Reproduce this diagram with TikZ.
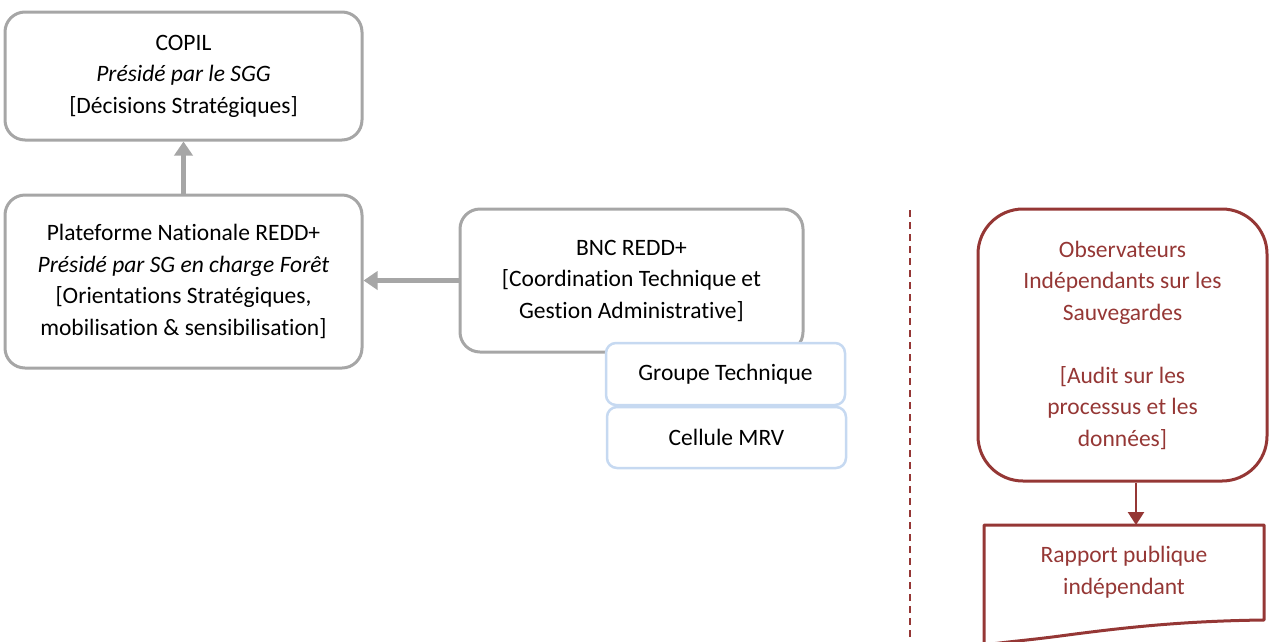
\documentclass[tikz,border=0pt]{standalone}
\usepackage{fontspec}
\setmainfont{Carlito}[Ligatures=NoCommon]
\usetikzlibrary{arrows.meta}
\definecolor{boxgray}{HTML}{A6A6A6}
\definecolor{boxblue}{HTML}{C6D9F1}
\definecolor{darkred}{HTML}{953735}
\begin{document}
\begin{tikzpicture}[x=1pt, y=-1pt,
    every node/.style={font=\fontsize{23.5}{31.5}\selectfont, align=center},
    graybox/.style={draw=boxgray, line width=3pt, rounded corners=20pt, inner sep=0pt},
    bluebox/.style={draw=boxblue, line width=2.5pt, rounded corners=10pt, fill=white, inner sep=0pt},
    redbox/.style={draw=darkred, line width=3pt, rounded corners=45pt, text=darkred, inner sep=0pt}]
    \useasboundingbox (0,0) rectangle (1269,641);

    % Left part
    \node[graybox, minimum width=357pt, minimum height=128pt] (copil) at (183.5,76)
        {COPIL\\ \textit{Présidé par le SGG}\\ {[}Décisions Stratégiques{]}};
    \node[graybox, minimum width=357pt, minimum height=173pt] (plateforme) at (183.5,281.5)
        {Plateforme Nationale REDD+\\ \textit{Présidé par SG en charge Forêt}\\ {[}Orientations Stratégiques,\\ mobilisation \& sensibilisation{]}};
    \node[graybox, minimum width=343pt, minimum height=143pt] (bnc) at (631.5,280.5)
        {BNC REDD+\\ {[}Coordination Technique et\\ Gestion Administrative{]}};
    \node[bluebox, minimum width=239pt, minimum height=62pt] (groupe) at (725.5,374) {Groupe Technique};
    \node[bluebox, minimum width=239pt, minimum height=61pt] (cellule) at (726.5,437.5) {Cellule MRV};

    % Arrows
    \draw[boxgray, line width=5pt, -{Triangle[length=14pt, width=18pt]}] (plateforme.north) -- (copil.south);
    \draw[boxgray, line width=5pt, -{Triangle[length=14pt, width=18pt]}] (bnc.west) -- (plateforme.east |- bnc.west);

    % Separator
    \draw[darkred, line width=1.2pt, dash pattern=on 7pt off 5pt] (910,210) -- (910,641);

    % Right part
    \node[redbox, minimum width=289pt, minimum height=272pt] (observateurs) at (1122.5,345)
        {Observateurs\\ Indépendants sur les\\ Sauvegardes\\[31.5pt] {[}Audit sur les\\ processus et les\\ données{]}};
    \draw[darkred, line width=3pt, line join=round]
        (984,525) -- (1264,525) -- (1264,620)
        .. controls (1180,621) and (1120,628) .. (1060,636)
        .. controls (1030,640) and (1005,642) .. (984,645) -- cycle;
    \coordinate (rapporttop) at (1136,525);
    \node[text=darkred] (rapport) at (1124,572) {Rapport publique\\ indépendant};
    \draw[darkred, line width=2.5pt, -{Triangle[length=13pt, width=16pt]}] (observateurs.south -| rapporttop) -- (rapporttop);
\end{tikzpicture}
\end{document}
